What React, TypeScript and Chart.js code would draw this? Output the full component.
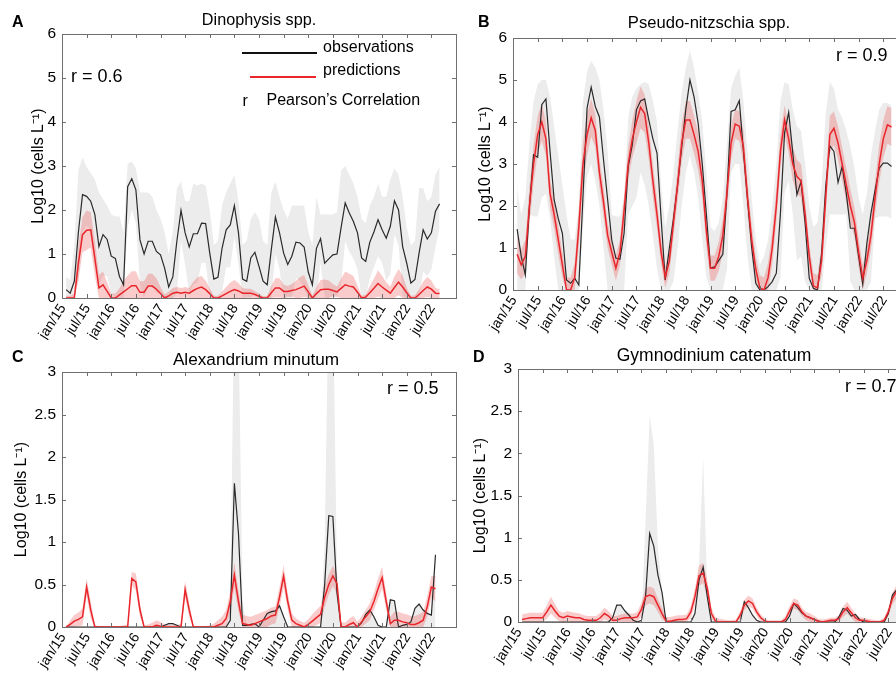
import React, { useEffect, useRef } from 'react';
import { Chart, registerables } from 'chart.js';
Chart.register(...registerables);

const FONT = '"Liberation Sans", Arial, Helvetica, sans-serif';

const tickLabels = ['jan/15','jul/15','jan/16','jul/16','jan/17','jul/17','jan/18','jul/18','jan/19','jul/19','jan/20','jul/20','jan/21','jul/21','jan/22','jul/22'];
const yTicks6 = [0, 1, 2, 3, 4, 5, 6];
const yTicks3 = [0, 0.5, 1, 1.5, 2, 2.5, 3];

// ---- Panel A: Dinophysis spp. (monthly, feb/15 ...)
const obsA = [0.19,0.11,0.38,1.5,2.35,2.31,2.2,1.9,1.17,1.44,
  1.33,0.95,0.9,0.49,0.3,2.53,2.71,2.46,1.32,1.0,
  1.29,1.29,1.06,0.98,0.68,0.25,0.48,1.3,1.99,1.48,
  1.16,1.46,1.46,1.7,1.69,1.02,0.43,0.47,1.13,1.55,
  1.66,2.1,1.48,0.43,0.38,0.91,1.04,0.72,0.38,0.3,
  1.1,1.84,1.48,1.02,0.76,0.95,1.27,1.25,1.16,0.59,
  0.3,1.13,1.35,0.79,0.89,0.98,1.0,1.6,2.16,1.93,
  1.74,1.48,0.91,0.83,1.27,1.5,1.78,1.55,1.36,1.63,
  2.21,2.0,1.17,0.79,0.34,0.42,1.02,1.55,1.34,1.48,
  1.97,2.14];
const predA = [0,0,0,0.8,1.44,1.54,1.55,0.9,0.23,0.3,
  0.15,0,0,0.07,0.14,0.21,0.28,0.28,0.13,0.13,
  0.27,0.27,0.2,0.1,0,0.05,0.11,0.13,0.11,0.13,
  0.11,0.17,0.22,0.25,0.19,0.1,0,0,0.05,0.1,
  0.15,0.19,0.16,0.11,0.11,0.11,0.08,0.04,0,0,
  0.12,0.23,0.23,0.15,0.15,0.17,0.19,0.23,0.27,0.14,
  0,0.1,0.19,0.2,0.2,0.17,0.14,0.22,0.3,0.27,
  0.25,0.13,0,0.02,0.12,0.22,0.33,0.25,0.18,0.11,
  0.24,0.36,0.25,0.12,0,0,0.08,0.17,0.25,0.2,
  0.11,0.1];
const predErrA = [0.05,0.05,0.1,0.4,0.4,0.45,0.4,0.4,0.3,0.3,
  0.2,0.1,0.1,0.15,0.25,0.3,0.33,0.33,0.25,0.25,
  0.28,0.28,0.25,0.15,0.08,0.1,0.12,0.12,0.12,0.12,
  0.12,0.2,0.25,0.25,0.2,0.12,0.05,0.05,0.1,0.15,
  0.2,0.22,0.18,0.12,0.1,0.1,0.08,0.06,0.04,0.05,
  0.15,0.22,0.22,0.15,0.12,0.15,0.2,0.25,0.25,0.15,
  0.05,0.15,0.22,0.22,0.2,0.15,0.12,0.22,0.3,0.28,
  0.25,0.15,0.05,0.06,0.15,0.22,0.3,0.25,0.18,0.15,
  0.25,0.3,0.25,0.12,0.05,0.06,0.12,0.2,0.23,0.2,
  0.12,0.1];
const greyHiA = [0.49,0.41,1.18,2.9,3.2,2.98,2.84,2.7,2.4,2.25,
  2.1,1.9,1.85,1.85,1.5,3.05,3.1,2.95,2.4,2.4,
  2.4,2.3,2.0,1.8,1.5,1.0,1.5,2.5,2.65,2.2,
  2.2,2.6,2.55,2.6,2.55,2.0,1.2,1.3,2.1,2.4,
  2.6,2.8,2.2,1.2,1.3,1.8,1.95,1.8,1.3,1.2,
  2.4,2.65,2.3,2.0,1.8,2.1,2.1,2.1,2.1,1.5,
  1.2,2.3,1.9,1.9,1.9,1.9,1.95,2.9,3.0,2.8,
  2.6,2.3,1.8,1.7,2.1,2.3,2.6,2.3,2.3,2.7,
  2.95,2.8,2.3,1.6,1.2,1.3,2.5,2.5,2.2,2.3,
  2.8,3.0];
const greyLoA = [0,0,0,0.4,1.5,1.64,1.56,0.9,0.3,0.5,
  0.5,0.1,0,0,0,1.6,2.0,1.7,0.3,0,
  0.3,0.3,0.1,0.15,0,0,0,0.1,1.3,0.75,
  0.1,0.3,0.35,0.8,0.8,0.05,0,0,0.15,0.7,
  0.7,1.4,0.75,0,0,0,0.1,0,0,0,
  0,1.0,0.65,0,0,0,0.45,0.4,0.2,0,
  0,0,0.8,0,0,0.05,0.05,0.3,1.3,1.05,
  0.9,0.65,0,0,0.45,0.7,0.95,0.8,0.4,0.55,
  1.45,1.2,0.05,0,0,0,0,0.6,0.5,0.65,
  1.15,1.6];

// ---- Panel B: Pseudo-nitzschia spp.
const obsB = [1.45,0.8,0.36,2.0,3.22,3.16,4.41,4.55,3.3,2.15,
  1.7,1.35,0.24,0.16,0.28,0.12,2.2,4.33,4.83,4.37,
  4.12,3.1,2.15,1.19,0.76,0.73,1.35,2.94,3.46,4.29,
  4.5,4.55,4.05,3.6,3.26,1.7,0.24,1.0,1.7,2.5,
  3.4,4.3,5.0,4.6,3.97,3.0,1.8,0.52,0.55,0.7,
  0.85,2.3,4.25,4.29,4.51,3.3,2.15,1.03,0.16,0,
  0,0.08,0.2,0.4,1.83,3.74,4.23,3.26,2.27,2.58,
  1.59,0.28,0.04,0,0.87,2.46,3.43,3.3,2.56,2.94,
  2.3,1.47,1.47,0.8,0.14,1.11,1.83,2.38,2.9,3.02,
  3.02,2.94];
const predB = [0.85,0.6,0.8,2.0,3.0,3.7,4.0,3.6,2.3,1.8,
  1.2,0.6,0,0,0.3,1.5,3.0,3.7,4.1,3.8,
  2.8,2.1,1.3,0.9,0.52,0.9,1.9,3.0,3.6,4.0,
  4.35,4.2,3.5,2.6,1.8,0.9,0.3,0.7,1.6,2.5,
  3.5,4.05,4.05,3.7,3.3,2.6,1.4,0.52,0.52,0.8,
  1.3,2.3,3.5,3.95,3.9,3.4,2.2,1.2,0.5,0.05,
  0,0.3,1.0,2.0,3.3,4.05,3.6,3.0,2.7,2.6,
  1.8,0.8,0.1,0.05,0.7,2.2,3.7,3.85,3.5,3.0,
  2.5,2.0,1.6,0.9,0.28,0.7,1.3,2.2,3.0,3.6,
  3.93,3.88];
const predErrB = [0.45,0.35,0.4,0.45,0.45,0.45,0.45,0.4,0.35,0.35,
  0.35,0.3,0.3,0.3,0.35,0.45,0.5,0.5,0.45,0.4,
  0.35,0.35,0.3,0.3,0.3,0.3,0.35,0.4,0.45,0.5,
  0.5,0.45,0.4,0.4,0.35,0.3,0.25,0.3,0.35,0.4,
  0.45,0.45,0.45,0.45,0.45,0.4,0.35,0.3,0.3,0.35,
  0.4,0.4,0.4,0.35,0.35,0.4,0.4,0.35,0.3,0.3,
  0.3,0.35,0.4,0.4,0.4,0.35,0.35,0.4,0.4,0.4,
  0.35,0.3,0.3,0.3,0.35,0.4,0.45,0.4,0.4,0.4,
  0.4,0.4,0.35,0.35,0.3,0.3,0.35,0.4,0.45,0.45,
  0.45,0.45];
const greyHiB = [2.4,1.8,2.2,3.5,4.5,4.9,5.0,5.0,4.6,3.9,
  3.2,2.5,1.8,1.2,1.2,2.0,4.5,5.2,5.45,5.3,
  5.0,4.3,3.3,1.8,1.75,1.75,2.2,4.1,4.6,4.8,
  4.9,4.95,4.9,4.5,4.0,2.5,1.5,2.0,2.8,3.8,
  4.7,5.3,5.7,5.3,4.7,4.0,2.8,1.5,1.4,1.6,
  2.2,3.5,4.8,5.1,5.3,4.5,3.3,2.2,1.2,0.6,
  0.8,1.2,2.0,3.0,4.5,4.95,4.9,4.3,3.9,3.8,
  3.0,2.0,1.5,1.6,2.5,4.2,4.95,4.8,4.3,4.1,
  3.8,3.4,2.9,2.2,1.8,2.3,3.2,3.8,4.3,4.45,
  4.45,4.4];
const greyLoB = [0,0,0,1.8,1.75,1.75,2.2,2.3,1.7,0.8,
  0,0,0,0,0,0,1.5,2.7,3.0,2.6,
  2.0,1.0,0,0,0,0,0,1.8,2.0,2.2,
  2.8,2.5,2.0,1.3,0.5,0,0,0,0.2,1.0,
  2.0,2.8,3.2,2.8,2.2,1.2,0.3,0,0,0,
  0,0.5,2.8,3.0,3.0,2.0,0.8,0,0,0,
  0,0,0,0,0.3,2.3,2.6,1.8,0.7,0.8,
  0.2,0,0,0,0,1.0,1.8,1.8,1.8,1.8,
  1.8,0.2,0,0,0,0,0.2,1.7,1.75,1.75,
  1.75,1.7];

// ---- Panel C: Alexandrium minutum
const obsC = [0,0,0,0,0,0,0,0,0,0,
  0,0,0,0,0,0,0,0,0,0,
  0,0,0,0,0.02,0.04,0.04,0.02,0,0,
  0,0,0,0,0,0,0,0,0,0,
  0.08,1.69,1.1,0.02,0.02,0.03,0.04,0,0.08,0.16,
  0.18,0.19,0.25,0.12,0,0,0,0,0,0,
  0,0,0,0.5,1.31,1.3,0.4,0,0,0,
  0,0,0.05,0.15,0.2,0.12,0.02,0,0,0.32,
  0.31,0,0.02,0.03,0.06,0.22,0.27,0.2,0.16,0.14,
  0.85];
const predC = [0,0.03,0.07,0.09,0.12,0.47,0.2,0,0,0,
  0,0,0,0,0,0,0.57,0.53,0.2,0,
  0,0,0.02,0.01,0,0,0,0,0,0.44,
  0.2,0,0,0,0,0,0,0.02,0.04,0.1,
  0.3,0.61,0.3,0.04,0.03,0.02,0.04,0.06,0.08,0.1,
  0.13,0.14,0.35,0.6,0.3,0.08,0.04,0.02,0,0.03,
  0.07,0.11,0.15,0.35,0.5,0.6,0.51,0,0,0.03,
  0.05,0,0.06,0.12,0.18,0.3,0.45,0.58,0.3,0.04,
  0.08,0.08,0.06,0.05,0.03,0.03,0.05,0.08,0.24,0.47,
  0.45];
const predErrC = [0,0.05,0.07,0.08,0.1,0.1,0.1,0.03,0,0,
  0,0,0,0.01,0.02,0.03,0.08,0.1,0.08,0.02,
  0.03,0.05,0.06,0.05,0.03,0.02,0.02,0.02,0.04,0.1,
  0.08,0.02,0,0,0.01,0.02,0.04,0.06,0.08,0.1,
  0.12,0.15,0.12,0.1,0.1,0.1,0.1,0.1,0.1,0.1,
  0.1,0.1,0.12,0.13,0.1,0.08,0.06,0.05,0.05,0.06,
  0.08,0.09,0.1,0.12,0.12,0.12,0.12,0.06,0.05,0.07,
  0.08,0.06,0.07,0.08,0.1,0.1,0.12,0.13,0.1,0.08,
  0.1,0.1,0.1,0.1,0.1,0.1,0.1,0.1,0.12,0.13,
  0.15];
const greyHiC = [0,0,0,0,0,0,0,0,0,0,
  0,0,0,0,0,0,0,0,0,0,
  0,0,0,0,0.02,0.04,0.04,0.02,0,0,
  0,0,0,0,0,0,0,0,0,0,
  0.3,4.0,3.6,0.3,0.02,0.03,0.04,0,0.08,0.16,
  0.18,0.19,0.25,0.12,0,0,0,0,0,0,
  0,0,0,1.0,4.0,4.0,0.6,0,0,0,
  0,0,0.05,0.15,0.2,0.12,0.02,0,0,0.32,
  0.31,0,0.02,0.03,0.06,0.22,0.27,0.2,0.16,0.14,
  0.9];

// ---- Panel D: Gymnodinium catenatum
const obsD = [0,0,0,0,0,0,0,0,0,0,
  0,0,0,0,0,0,0,0,0,0,
  0,0,0.05,0.2,0.2,0.13,0.08,0.02,0,0.02,
  0.3,1.05,0.9,0.56,0.35,0,0,0,0,0,
  0,0,0.1,0.5,0.65,0.3,0,0,0,0,
  0,0,0,0,0.24,0.17,0.08,0.02,0,0,
  0,0,0,0,0,0.07,0.22,0.17,0.11,0.07,
  0.05,0.03,0.01,0,0,0,0,0.06,0.16,0.14,
  0.07,0.09,0.03,0,0,0,0,0,0,0.1,
  0.32,0.38];
const predD = [0.03,0.04,0.05,0.05,0.05,0.05,0.12,0.2,0.13,0.07,
  0.05,0.07,0.06,0.05,0.05,0.03,0.02,0.02,0.02,0.05,
  0.1,0.07,0.02,0.02,0.04,0.05,0.05,0.05,0.06,0.15,
  0.3,0.32,0.3,0.2,0.1,0.01,0.01,0.02,0.03,0.03,
  0.04,0.12,0.3,0.55,0.58,0.4,0.1,0.01,0,0,
  0,0,0,0.08,0.2,0.25,0.22,0.12,0.05,0.01,
  0,0,0,0,0.03,0.13,0.22,0.2,0.12,0.07,
  0.05,0.03,0.01,0,0.01,0.02,0.02,0.04,0.12,0.17,
  0.11,0.05,0.02,0.02,0.01,0,0,0,0.02,0.12,
  0.28,0.36];
const predErrD = [0.06,0.06,0.06,0.06,0.06,0.06,0.08,0.1,0.08,0.06,
  0.06,0.06,0.06,0.06,0.05,0.05,0.05,0.05,0.05,0.06,
  0.07,0.06,0.05,0.05,0.05,0.05,0.05,0.05,0.06,0.08,
  0.1,0.1,0.1,0.08,0.07,0.05,0.05,0.05,0.05,0.05,
  0.05,0.07,0.1,0.12,0.12,0.1,0.07,0.05,0.04,0.03,
  0.02,0.02,0.03,0.05,0.06,0.06,0.06,0.05,0.04,0.03,
  0.02,0.02,0.02,0.02,0.04,0.06,0.06,0.06,0.05,0.05,
  0.05,0.04,0.03,0.03,0.03,0.03,0.03,0.04,0.06,0.07,
  0.06,0.05,0.04,0.03,0.03,0.03,0.02,0.02,0.03,0.05,
  0.07,0.08];
const greyHiD = [0,0,0,0,0,0,0,0,0,0,
  0,0,0,0,0,0,0,0,0,0,
  0,0,0.05,0.2,0.2,0.13,0.08,0.02,0,0.02,
  1.2,2.45,2.1,0.9,0.35,0,0,0,0,0,
  0,0,0.1,0.7,1.95,0.4,0,0,0,0,
  0,0,0,0,0.24,0.17,0.08,0.02,0,0,
  0,0,0,0,0,0.07,0.22,0.17,0.11,0.07,
  0.05,0.03,0.01,0,0,0,0,0.06,0.16,0.14,
  0.07,0.09,0.03,0,0,0,0,0,0,0.1,
  0.32,0.38];

type PanelCfg = {
  left: number; top: number; width: number; height: number;
  padTop: number; padRight: number; yWidth: number; xHeight: number;
  yMax: number; yTicks: number[]; yTitlePad: number;
  obs: number[]; pred: number[]; predErr: number[]; greyHi: number[]; greyLo?: number[];
};

const panels: PanelCfg[] = [
  { left: 0, top: 0, width: 466, height: 340, padTop: 34, padRight: 10, yWidth: 62, xHeight: 42,
    yMax: 6, yTicks: yTicks6, yTitlePad: 29.5, obs: obsA, pred: predA, predErr: predErrA, greyHi: greyHiA, greyLo: greyLoA },
  { left: 446, top: 0, width: 470, height: 335, padTop: 38, padRight: 8, yWidth: 67, xHeight: 45,
    yMax: 6, yTicks: yTicks6, yTitlePad: 31, obs: obsB, pred: predB, predErr: predErrB, greyHi: greyHiB, greyLo: greyLoB },
  { left: 0, top: 335, width: 466, height: 339, padTop: 37, padRight: 10, yWidth: 62, xHeight: 47,
    yMax: 3, yTicks: yTicks3, yTitlePad: 13, obs: obsC, pred: predC, predErr: predErrC, greyHi: greyHiC },
  { left: 446, top: 335, width: 480, height: 339, padTop: 34, padRight: 13, yWidth: 72, xHeight: 52,
    yMax: 3, yTicks: yTicks3, yTitlePad: 25.5, obs: obsD, pred: predD, predErr: predErrD, greyHi: greyHiD },
];

const pts = (arr: number[]) => arr.map((v, i) => ({ x: i + 1, y: v }));

const framePlugin = {
  id: 'frame',
  afterDatasetsDraw(chart: any) {
    const { ctx, chartArea, scales } = chart;
    const { left, right, top, bottom } = chartArea;
    ctx.save();
    ctx.strokeStyle = '#6f6f6f';
    ctx.lineWidth = 1;
    ctx.strokeRect(Math.round(left) + 0.5, Math.round(top) + 0.5, Math.round(right - left), Math.round(bottom - top));
    ctx.beginPath();
    const tl = 4;
    scales.x.ticks.forEach((t: any) => {
      const px = Math.round(scales.x.getPixelForValue(t.value)) + 0.5;
      ctx.moveTo(px, bottom); ctx.lineTo(px, bottom - tl);
      ctx.moveTo(px, top); ctx.lineTo(px, top + tl);
    });
    scales.y.ticks.forEach((t: any) => {
      const py = Math.round(scales.y.getPixelForValue(t.value)) + 0.5;
      ctx.moveTo(left, py); ctx.lineTo(left + tl, py);
      ctx.moveTo(right, py); ctx.lineTo(right - tl, py);
    });
    ctx.stroke();
    ctx.restore();
  },
};

function Panel({ cfg }: { cfg: PanelCfg }) {
  const ref = useRef<HTMLCanvasElement>(null);
  useEffect(() => {
    if (!ref.current) return;
    const predLo = cfg.pred.map((v, i) => Math.max(0, v - cfg.predErr[i]));
    const predHi = cfg.pred.map((v, i) => v + cfg.predErr[i]);
    const clear = 'rgba(0,0,0,0)';
    const datasets: any[] = [
      { label: 'predictions', data: pts(cfg.pred), borderColor: '#e8262b', borderWidth: 1.5, pointRadius: 0, fill: false },
      { label: 'observations', data: pts(cfg.obs), borderColor: '#2a2a2a', borderWidth: 1.2, pointRadius: 0, fill: false },
      { label: 'predHi', data: pts(predHi), borderColor: clear, borderWidth: 0, pointRadius: 0, fill: '+1', backgroundColor: 'rgba(236,70,70,0.28)' },
      { label: 'predLo', data: pts(predLo), borderColor: clear, borderWidth: 0, pointRadius: 0, fill: false },
      { label: 'obsHi', data: pts(cfg.greyHi), borderColor: clear, borderWidth: 0, pointRadius: 0, fill: cfg.greyLo ? '+1' : 'origin', backgroundColor: '#ececec' },
    ];
    if (cfg.greyLo) {
      datasets.push({ label: 'obsLo', data: pts(cfg.greyLo), borderColor: clear, borderWidth: 0, pointRadius: 0, fill: false });
    }
    const chart = new Chart(ref.current, {
      type: 'line',
      data: { datasets },
      plugins: [framePlugin],
      options: {
        animation: false,
        responsive: false,
        devicePixelRatio: 1,
        layout: { padding: { top: cfg.padTop, right: cfg.padRight, left: 0, bottom: 0 } },
        plugins: { legend: { display: false }, tooltip: { enabled: false }, title: { display: false } },
        elements: { line: { tension: 0 }, point: { radius: 0 } },
        scales: {
          x: {
            type: 'linear', min: 0, max: 96,
            grid: { display: false, drawTicks: false },
            border: { display: false },
            afterBuildTicks: (s: any) => { s.ticks = tickLabels.map((_, i) => ({ value: i * 6 })); },
            afterFit: (s: any) => { s.height = cfg.xHeight; },
            ticks: {
              autoSkip: false, maxRotation: 57, minRotation: 57, padding: 3, labelOffset: 1,
              font: { family: FONT, size: 14 }, color: '#000',
              callback: (v: any) => tickLabels[Math.round(Number(v) / 6)] ?? '',
            },
          },
          y: {
            type: 'linear', min: 0, max: cfg.yMax,
            grid: { display: false, drawTicks: false },
            border: { display: false },
            afterBuildTicks: (s: any) => { s.ticks = cfg.yTicks.map((v) => ({ value: v })); },
            afterFit: (s: any) => { s.width = cfg.yWidth; },
            ticks: { padding: 6, font: { family: FONT, size: 15.5 }, color: '#000', callback: (v: any) => String(v) },
            title: {
              display: true, text: 'Log10 (cells L\u207B\u00B9)', color: '#000',
              font: { family: FONT, size: 16 }, padding: { top: cfg.yTitlePad - 0.6, bottom: 0 },
            },
          },
        },
      } as any,
    });
    return () => chart.destroy();
  }, [cfg]);
  return (
    <canvas ref={ref} width={cfg.width} height={cfg.height}
      style={{ position: 'absolute', left: cfg.left, top: cfg.top, width: cfg.width, height: cfg.height }} />
  );
}

type TextItem = { text: string; x: number; base: number; size: number; bold?: boolean; center?: boolean };
const texts: TextItem[] = [
  { text: 'A', x: 12, base: 28, size: 16, bold: true },
  { text: 'B', x: 478, base: 28, size: 16, bold: true },
  { text: 'C', x: 12, base: 363, size: 16, bold: true },
  { text: 'D', x: 473, base: 363, size: 16, bold: true },
  { text: 'Dinophysis spp.', x: 259, base: 25, size: 16.2, center: true },
  { text: 'Pseudo-nitzschia spp.', x: 709, base: 29, size: 16.6, center: true },
  { text: 'Alexandrium minutum', x: 256, base: 366, size: 17.2, center: true },
  { text: 'Gymnodinium catenatum', x: 714, base: 362, size: 17.5, center: true },
  { text: 'r = 0.6', x: 71, base: 82, size: 18 },
  { text: 'r = 0.9', x: 836, base: 61.5, size: 18 },
  { text: 'r = 0.5', x: 387, base: 394, size: 18 },
  { text: 'r = 0.7', x: 845, base: 392.5, size: 18 },
  { text: 'observations', x: 323, base: 52.5, size: 16 },
  { text: 'predictions', x: 323, base: 76, size: 16 },
  { text: 'r', x: 242.5, base: 107, size: 16 },
  { text: 'Pearson\u2019s Correlation', x: 266.5, base: 106, size: 16 },
];

export default function App() {
  return (
    <div style={{ position: 'fixed', left: 0, top: 0, width: 896, height: 674, overflow: 'hidden', background: '#fff', fontFamily: FONT }}>
      {panels.map((p, i) => <Panel key={i} cfg={p} />)}
      <div style={{ position: 'absolute', left: 242, top: 51.5, width: 75, height: 2, background: '#111' }} />
      <div style={{ position: 'absolute', left: 250, top: 75.5, width: 66, height: 2, background: '#e8262b' }} />
      {texts.map((t, i) => (
        <div key={i} style={{
          position: 'absolute', left: t.x, top: t.base - 0.8465 * t.size, fontSize: t.size, lineHeight: `${t.size}px`,
          fontWeight: t.bold ? 700 : 400, whiteSpace: 'nowrap', color: '#000',
          transform: t.center ? 'translateX(-50%)' : undefined,
        }}>{t.text}</div>
      ))}
    </div>
  );
}
